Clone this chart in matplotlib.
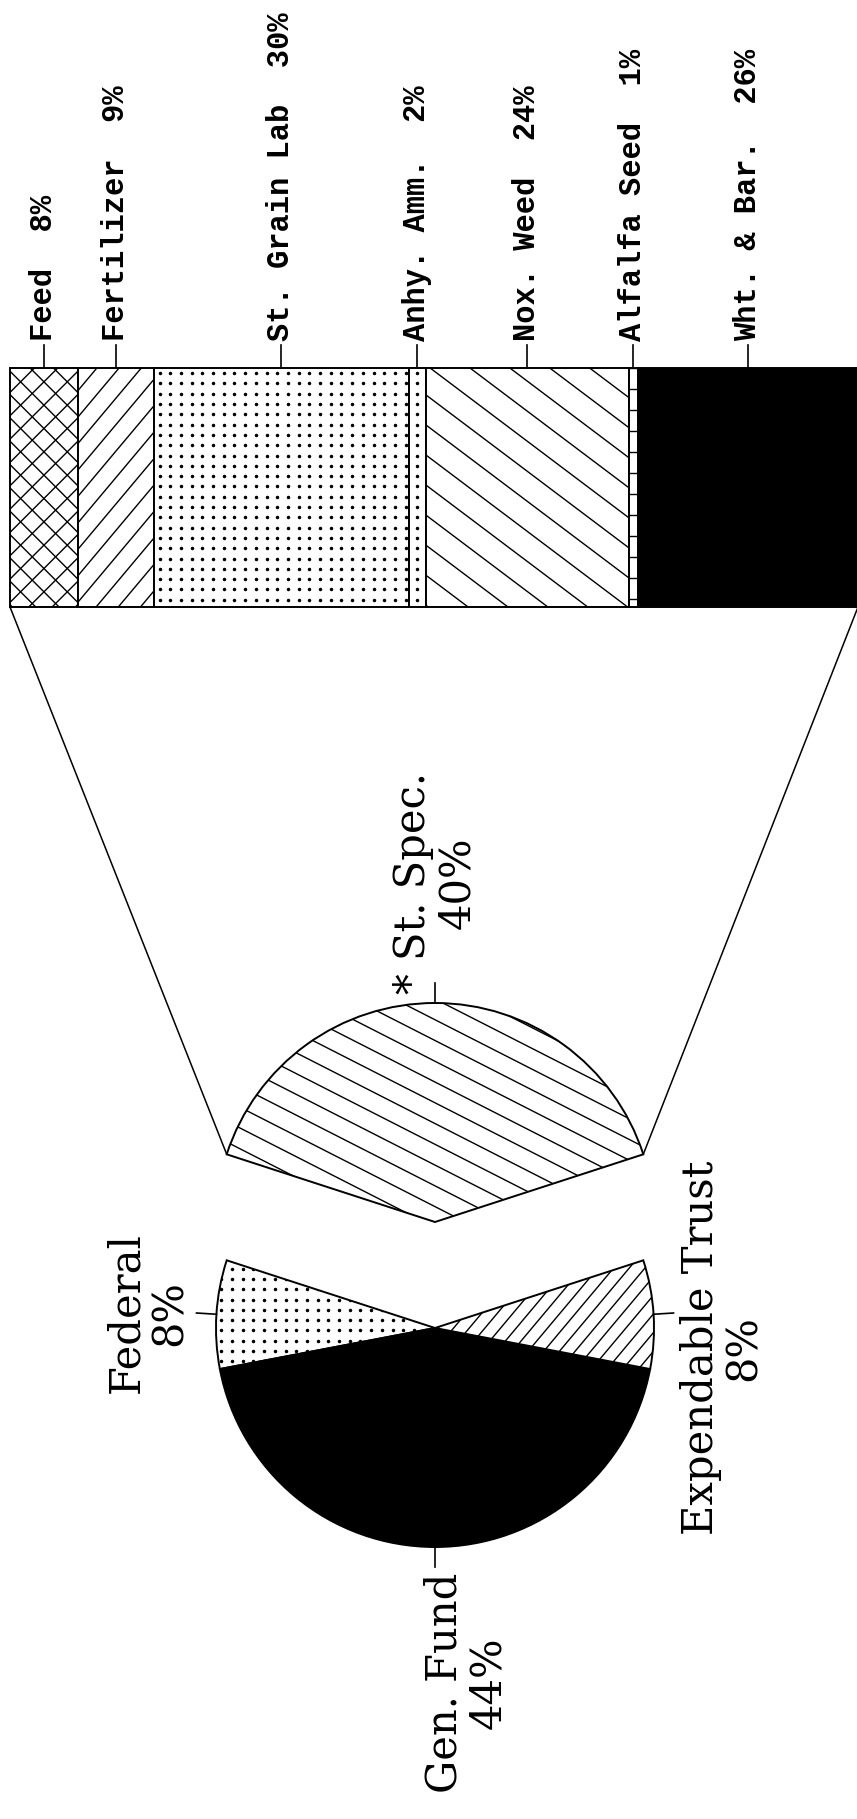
import numpy as np
import matplotlib.pyplot as plt
from matplotlib.collections import LineCollection

# pie of funding sources, St. Spec. slice broken out in the bar (page turned 90 deg)
pie_labels = ['* St. Spec.', 'Federal', 'Gen. Fund', 'Expendable Trust']
pie_pcts = [40, 8, 44, 8]

bar_labels = ['Feed', 'Fertilizer', 'St. Grain Lab', 'Anhy. Amm.', 'Nox. Weed',
              'Alfalfa Seed', 'Wht. & Bar.']
bar_pcts = [8, 9, 30, 2, 24, 1, 26]

W, H = 857, 1819
fig = plt.figure(figsize=(W / 100, H / 100), dpi=100)
ax = fig.add_axes([0, 0, 1, 1])

# layout, in pixels
cx, cy, r = 435, 1328, 219
explode_px = 106
bar_x0, bar_len = 10, 848
bar_top, bar_bot = 368, 607


def hatch(patch, bbox, angle, step, lw=1.0):
    # straight hatch lines at any angle (screen degrees), clipped to the patch
    x0, y0, x1, y1 = bbox
    m = np.array([(x0 + x1) / 2, (y0 + y1) / 2])
    L = np.hypot(x1 - x0, y1 - y0)
    a = np.radians(angle)
    d = np.array([np.cos(a), -np.sin(a)])
    n = np.array([np.sin(a), np.cos(a)])
    segs = []
    for k in np.arange(-L / 2, L / 2 + step, step):
        p = m + k * n
        segs.append([p - L * d, p + L * d])
    lc = LineCollection(segs, colors='black', linewidths=lw)
    ax.add_collection(lc, autolim=False)
    lc.set_clip_path(patch)


def dots(patch, bbox, dx, dy):
    x0, y0, x1, y1 = bbox
    xs = np.arange(x0 + dx / 2, x1, dx)
    ys = np.arange(y0 + dy / 2, y1, dy)
    gx, gy = np.meshgrid(xs, ys)
    pts, = ax.plot(gx.ravel(), gy.ravel(), 'o', ms=1.5, color='black', lw=0)
    pts.set_clip_path(patch)


# ---- stacked bar ----
px = bar_len / sum(bar_pcts)
widths = np.array(bar_pcts) * px
lefts = bar_x0 + np.concatenate([[0], np.cumsum(widths)[:-1]])
bars = ax.barh((bar_top + bar_bot) / 2, widths, left=lefts, height=bar_bot - bar_top,
               color='white', edgecolor='black', linewidth=1.4)
bars[-1].set_facecolor('black')

for i, b in enumerate(bars):
    bb = (lefts[i], bar_top, lefts[i] + widths[i], bar_bot)
    if i == 0:
        hatch(b, bb, 45, 16.5)
        hatch(b, bb, -45, 16.5)
    elif i == 1:
        hatch(b, bb, 50, 17)
    elif i == 2:
        dots(b, bb, 10.7, 10.3)
    elif i == 3:
        dots(b, bb, widths[i], 10.3)
    elif i == 4:
        hatch(b, bb, -37, 24)
    elif i == 5:
        hatch(b, bb, 0, 21)

for i, (lab, p) in enumerate(zip(bar_labels, bar_pcts)):
    xm = lefts[i] + widths[i] / 2
    ax.plot([xm, xm], [bar_top, bar_top - 23], color='black', lw=1.2)
    ax.text(xm, bar_top - 27, f'{lab}  {p}%', rotation=90, ha='center', va='bottom',
            fontsize=22, family='Liberation Mono', weight='bold')

# ---- pie ----
# explode is in data units here (pixels)
start = 270 + pie_pcts[0] * 3.6 / 2
wedges, _ = ax.pie(pie_pcts, explode=[explode_px, 0, 0, 0], startangle=start,
                   counterclock=False, center=(cx, cy), radius=r,
                   colors=['white', 'white', 'black', 'white'],
                   wedgeprops=dict(edgecolor='black', linewidth=1.4),
                   labeldistance=None)

for i, w in enumerate(wedges):
    wx, wy = w.center
    bb = (wx - r, wy - r, wx + r, wy + r)
    if i == 0:
        hatch(w, bb, -27, 18.5)
    elif i == 1:
        dots(w, bb, 10.7, 10.3)
    elif i == 3:
        hatch(w, bb, 50, 12)

# label placement: alignment and small nudges per slice
lab_style = [('center', 'bottom', 0, 17),
             ('right', 'center', 0, 0),
             ('center', 'top', 31, 0),
             ('left', 'center', 0, 35)]
for w, lab, p, (ha, va, ox, oy) in zip(wedges, pie_labels, pie_pcts, lab_style):
    mid = np.radians((w.theta1 + w.theta2) / 2)
    ux, uy = np.cos(mid), np.sin(mid)
    wx, wy = w.center
    ax.plot([wx + r * ux, wx + (r + 20) * ux], [wy + r * uy, wy + (r + 20) * uy],
            color='black', lw=1.2)
    ax.text(wx + (r + 26) * ux + ox, wy + (r + 26) * uy + oy, f'{lab}\n{p}%',
            rotation=90, ha=ha, va=va, multialignment='center',
            fontsize=30, family='DejaVu Serif', linespacing=1.05)

# lines from the broken-out slice to the bar ends
sw = wedges[0]
ex, ey = sw.center
for th, bx in [(sw.theta1, bar_x0), (sw.theta2, bar_x0 + bar_len)]:
    t = np.radians(th)
    ax.plot([ex + r * np.cos(t), bx], [ey + r * np.sin(t), bar_bot], color='black', lw=1.1)

ax.set_xlim(0, W)
ax.set_ylim(H, 0)
ax.axis('off')

fig.savefig('out.png', dpi=100)
